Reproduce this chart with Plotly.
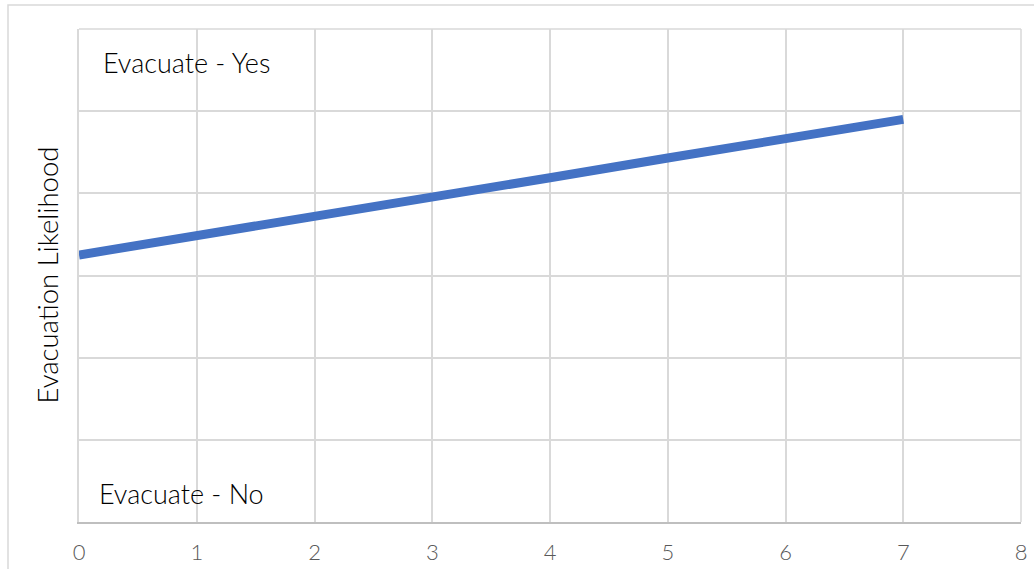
import plotly.graph_objects as go

# Predicted evacuation likelihood across the x scale
x_vals = [0, 1, 2, 3, 4, 5, 6, 7]
likelihood = [3.25, 3.48, 3.72, 3.96, 4.19, 4.43, 4.66, 4.90]
x_ticks = [0, 1, 2, 3, 4, 5, 6, 7, 8]
zone_labels = ["Evacuate - Yes", "Evacuate - No"]
y_title = "Evacuation Likelihood"

FONT = "Lato"
GRID = "#D9D9D9"

fig = go.Figure()
fig.add_trace(go.Scatter(
    x=x_vals, y=likelihood, mode="lines",
    line=dict(color="#4472C4", width=9),
    showlegend=False, hoverinfo="skip",
))

fig.update_layout(
    width=1034, height=569,
    margin=dict(l=79, r=13, t=29, b=47),
    paper_bgcolor="white", plot_bgcolor="white",
    font=dict(family=FONT, color="#595959", weight=300),
    xaxis=dict(
        range=[0, 8], tickvals=x_ticks, ticktext=[str(v) for v in x_ticks],
        showgrid=True, gridcolor=GRID, gridwidth=1.5,
        zeroline=False, showline=True, linecolor="#BFBFBF", linewidth=1.5,
        ticks="", ticklabelstandoff=10, automargin=False,
        tickfont=dict(family=FONT, size=22, color="#595959", weight=300),
    ),
    yaxis=dict(
        range=[0, 6], dtick=1, showgrid=True, gridcolor=GRID, gridwidth=1.5,
        zeroline=False, showline=True, linecolor=GRID, linewidth=1.5,
        showticklabels=False, ticks="", automargin=False,
    ),
    shapes=[
        # outer chart frame
        dict(type="rect", xref="paper", yref="paper",
             x0=(8 - 79) / 942, x1=(1045 - 79) / 942,
             y0=(522 - 580) / 493, y1=(522 - 5) / 493,
             line=dict(color=GRID, width=1.5), layer="below"),
        # right and top edges of plot area
        dict(type="line", xref="paper", yref="paper", x0=1, x1=1, y0=0, y1=1,
             line=dict(color=GRID, width=1.5)),
        dict(type="line", xref="paper", yref="paper", x0=0, x1=1, y0=1, y1=1,
             line=dict(color=GRID, width=1.5)),
    ],
    annotations=[
        dict(text=zone_labels[0], x=0.186, y=5.59, xref="x", yref="y",
             xanchor="left", yanchor="middle", showarrow=False,
             font=dict(family=FONT, size=27, color="#000000", weight=300)),
        dict(text=zone_labels[1], x=0.153, y=0.35, xref="x", yref="y",
             xanchor="left", yanchor="middle", showarrow=False,
             font=dict(family=FONT, size=27, color="#000000", weight=300)),
        dict(text=y_title, x=(47 - 79) / 942, y=0.5, xref="paper", yref="paper",
             xanchor="center", yanchor="middle", textangle=-90, showarrow=False,
             font=dict(family=FONT, size=27.5, color="#000000", weight=300)),
    ],
)

fig.write_html("out.html")
